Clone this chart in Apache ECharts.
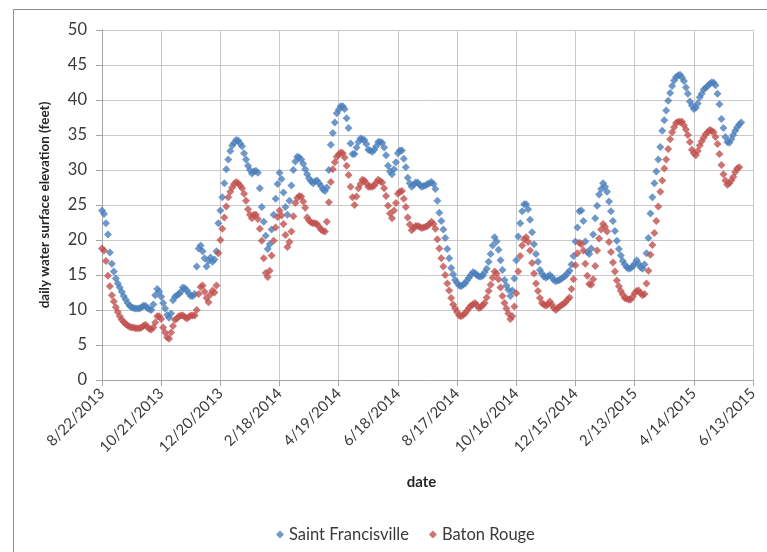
<!DOCTYPE html>
<html>
<head>
<meta charset="utf-8">
<script src="https://cdn.jsdelivr.net/npm/echarts@6/dist/echarts.min.js"></script>
<style>
  html, body { margin: 0; padding: 0; background: #ffffff; }
  #chart { width: 767px; height: 552px; }
</style>
</head>
<body>
<div id="chart"></div>
<script>
// Daily water surface elevation (feet), one reading every 2 days from 8/22/2013
const startDate = Date.UTC(2013, 7, 22);
const stepDays = 2;

const saintFrancisville = [
  24.2,23.7,22.4,20.8,18.2,16.6,15.5,14.5,13.8,13.2,
  12.6,12.0,11.5,11.0,10.6,10.4,10.3,10.2,10.2,10.2,
  10.4,10.6,10.6,10.3,10.1,10.0,10.8,12.1,13.0,12.6,
  11.9,11.0,10.2,9.3,8.9,9.5,11.4,11.9,12.1,12.3,
  12.6,13.2,13.1,12.8,12.4,12.0,12.0,12.3,16.2,18.8,
  19.2,18.4,17.4,16.2,17.0,17.5,16.9,17.2,18.4,22.4,
  24.2,26.1,28.1,30.1,31.5,32.7,33.5,33.9,34.3,34.2,
  33.8,33.4,32.4,31.5,30.6,30.0,29.5,29.8,29.9,29.6,
  27.4,24.7,22.6,20.6,18.7,19.4,21.5,23.6,25.9,28.0,
  29.6,28.7,26.8,24.7,23.6,25.6,27.8,30.0,31.2,31.9,
  31.8,31.5,30.9,30.1,29.4,28.8,28.4,28.1,28.4,28.5,
  28.1,27.7,27.2,27.0,27.5,30.0,33.6,35.3,36.8,38.1,
  38.6,39.1,39.1,38.7,37.4,36.0,33.8,32.3,32.3,33.2,
  34.0,34.5,34.4,34.3,33.7,32.9,32.8,32.6,32.9,33.4,
  34.0,34.0,33.9,33.2,32.1,30.6,29.8,29.4,30.1,31.1,
  32.4,32.8,32.8,31.6,30.4,28.9,28.1,27.6,27.9,28.2,
  28.2,27.9,27.6,27.7,27.8,28.0,28.1,28.3,28.0,27.3,
  25.6,23.9,22.7,21.5,20.3,18.7,17.4,16.0,15.1,14.3,
  13.9,13.5,13.4,13.6,13.8,14.2,14.6,15.0,15.4,15.3,
  15.0,14.8,14.8,14.9,15.4,15.9,16.9,18.0,19.2,20.4,
  19.8,18.6,17.1,15.7,14.3,13.5,12.9,12.0,12.8,14.5,
  17.1,20.5,22.4,24.1,25.1,25.1,24.4,22.9,21.1,19.4,
  18.0,16.9,15.7,15.2,14.8,14.6,14.8,15.0,14.7,14.3,
  14.1,14.2,14.3,14.5,14.7,14.9,15.3,15.6,16.5,17.7,
  19.8,21.8,24.1,24.2,22.7,19.8,18.3,18.0,18.8,20.8,
  23.1,24.9,26.5,27.3,28.1,27.6,26.9,25.5,24.1,22.7,
  21.3,19.9,18.7,17.8,17.0,16.5,16.1,15.9,16.0,16.2,
  16.6,17.1,16.6,16.1,15.9,16.5,18.1,20.3,23.8,26.1,
  28.1,29.8,31.5,33.3,35.6,37.1,38.5,39.9,41.0,42.0,
  42.8,43.3,43.5,43.6,43.2,42.7,41.8,40.9,39.8,39.2,
  38.7,38.9,39.5,40.4,40.9,41.5,41.7,42.0,42.3,42.5,
  42.5,42.1,40.9,39.4,37.3,36.0,34.7,34.0,33.9,34.4,
  35.0,35.6,36.1,36.5,36.8
];

const batonRouge = [
  18.8,18.5,17.0,14.9,13.4,12.1,11.2,10.4,9.7,9.1,
  8.6,8.3,8.0,7.8,7.6,7.5,7.5,7.4,7.4,7.4,
  7.5,7.7,7.9,7.6,7.3,7.2,7.5,8.2,9.1,9.1,
  8.7,7.5,6.8,6.1,5.9,6.8,7.7,8.6,8.8,9.1,
  9.2,9.2,9.0,8.8,9.0,9.2,9.2,9.2,10.0,12.3,
  13.3,13.5,12.6,11.7,11.1,12.2,12.8,12.5,13.5,18.1,
  20.0,21.6,23.2,24.8,26.1,26.9,27.5,28.0,28.3,28.1,
  27.8,27.4,26.6,25.6,24.4,23.6,23.1,23.6,23.6,23.0,
  21.6,19.9,17.4,15.3,14.7,15.6,17.8,19.9,21.8,23.3,
  24.2,23.5,22.3,20.7,19.0,19.7,21.2,23.4,25.3,26.0,
  26.3,26.2,25.5,24.6,23.2,22.8,22.5,22.4,22.4,22.3,
  21.9,21.5,21.3,21.2,22.6,25.4,28.3,30.1,31.1,31.9,
  32.2,32.5,32.4,31.8,30.6,29.3,27.6,26.1,25.0,26.2,
  27.4,28.0,28.6,28.5,28.1,27.6,27.6,27.6,27.8,28.2,
  28.6,28.4,28.2,27.4,26.3,24.9,23.8,23.1,24.2,25.3,
  26.6,26.9,27.0,25.9,24.7,23.2,22.2,21.4,21.7,22.0,
  22.0,21.9,21.7,21.8,21.9,22.0,22.3,22.6,22.3,21.6,
  20.1,18.8,17.4,16.2,15.0,13.8,12.8,11.7,10.8,10.2,
  9.7,9.2,9.1,9.3,9.5,9.9,10.3,10.6,10.8,11.0,
  10.7,10.3,10.4,10.7,11.0,11.8,12.7,13.6,14.6,15.5,
  15.2,14.4,13.2,12.0,11.0,10.2,9.5,8.7,9.1,10.5,
  12.4,15.5,17.7,19.2,20.1,20.4,19.7,18.5,16.7,15.2,
  13.8,12.7,11.7,11.0,10.8,10.6,10.8,11.2,10.8,10.3,
  10.0,10.3,10.5,10.7,10.9,11.1,11.5,11.8,13.0,14.4,
  16.4,18.1,19.6,19.4,18.5,16.6,14.9,13.7,13.6,14.4,
  16.3,18.5,20.2,21.5,22.3,21.9,21.2,19.7,18.3,16.8,
  15.5,14.2,13.4,12.7,12.2,11.7,11.6,11.5,11.5,11.9,
  12.4,12.7,12.8,12.4,12.1,12.3,13.8,15.6,17.9,19.3,
  21.0,22.7,24.8,26.9,28.5,30.2,31.5,33.0,34.4,35.4,
  36.1,36.7,36.9,36.9,36.9,36.4,35.8,35.0,34.0,32.9,
  32.4,32.1,32.7,33.5,34.1,34.6,35.1,35.4,35.7,35.6,
  35.4,34.7,33.7,32.3,30.7,29.4,28.5,27.9,28.1,28.5,
  29.0,29.7,30.2,30.4
];

// X axis: days since the start date, one tick every 60 days
const axisSpanDays = 660;
const tickDays = 60;
const yMax = 50;
const yStep = 5;

const DAY_MS = 86400000;
function dayLabel(days) {
  const d = new Date(startDate + days * DAY_MS);
  return (d.getUTCMonth() + 1) + '/' + d.getUTCDate() + '/' + d.getUTCFullYear();
}
function toPoints(values) {
  return values.map((v, i) => [i * stepDays, v]);
}

const FONT = 'Lato, "Open Sans", sans-serif';
const TEXT = '#3a3a3a';
const GRID = '#c9c9c9';
const AXIS = '#a6a6a6';

const chart = echarts.init(document.getElementById('chart'), null, { renderer: 'canvas' });
chart.setOption({
  animation: false,
  backgroundColor: '#ffffff',
  textStyle: { fontFamily: FONT },
  graphic: [{
    type: 'rect',
    shape: { x: 13.5, y: 9.5, width: 800, height: 600 },
    style: { fill: 'none', stroke: '#8c8c8c', lineWidth: 1 },
    silent: true
  }],
  grid: { left: 102, right: 14, top: 30, bottom: 172, containLabel: false },
  legend: {
    left: 271,
    top: 521,
    icon: 'diamond',
    itemWidth: 8,
    itemHeight: 8,
    itemGap: 20,
    textStyle: { fontFamily: FONT, fontSize: 16.5, color: TEXT },
    data: ['Saint Francisville', 'Baton Rouge']
  },
  xAxis: {
    type: 'value',
    min: 0,
    max: axisSpanDays,
    interval: tickDays,
    name: 'date',
    nameLocation: 'middle',
    nameGap: 95,
    nameTextStyle: { fontFamily: FONT, fontSize: 15, fontWeight: 'bold', color: '#262626', padding: [0, 12, 0, 0] },
    axisLine: { show: true, lineStyle: { color: AXIS, width: 1 } },
    axisTick: { show: true, length: 6, lineStyle: { color: AXIS } },
    splitLine: { show: true, lineStyle: { color: GRID, width: 1 } },
    axisLabel: {
      rotate: 45,
      margin: 11,
      fontSize: 15,
      color: TEXT,
      fontFamily: FONT,
      formatter: (v) => dayLabel(v)
    }
  },
  yAxis: {
    type: 'value',
    min: 0,
    max: yMax,
    interval: yStep,
    name: 'daily water surface elevation (feet)',
    nameLocation: 'middle',
    nameGap: 50,
    nameTextStyle: { fontFamily: FONT, fontSize: 13.5, fontWeight: 'bold', color: '#262626' },
    axisLine: { show: true, lineStyle: { color: AXIS, width: 1 } },
    axisTick: { show: true, length: 6, lineStyle: { color: AXIS } },
    splitLine: { show: true, lineStyle: { color: GRID, width: 1 } },
    axisLabel: { margin: 15, fontSize: 16.5, color: TEXT, fontFamily: FONT }
  },
  series: [
    {
      name: 'Saint Francisville',
      type: 'scatter',
      symbol: 'diamond',
      symbolSize: 8,
      itemStyle: { color: '#4a7ebb' },
      data: toPoints(saintFrancisville)
    },
    {
      name: 'Baton Rouge',
      type: 'scatter',
      symbol: 'diamond',
      symbolSize: 8,
      itemStyle: { color: '#c0504d' },
      data: toPoints(batonRouge)
    }
  ]
});
</script>
</body>
</html>
